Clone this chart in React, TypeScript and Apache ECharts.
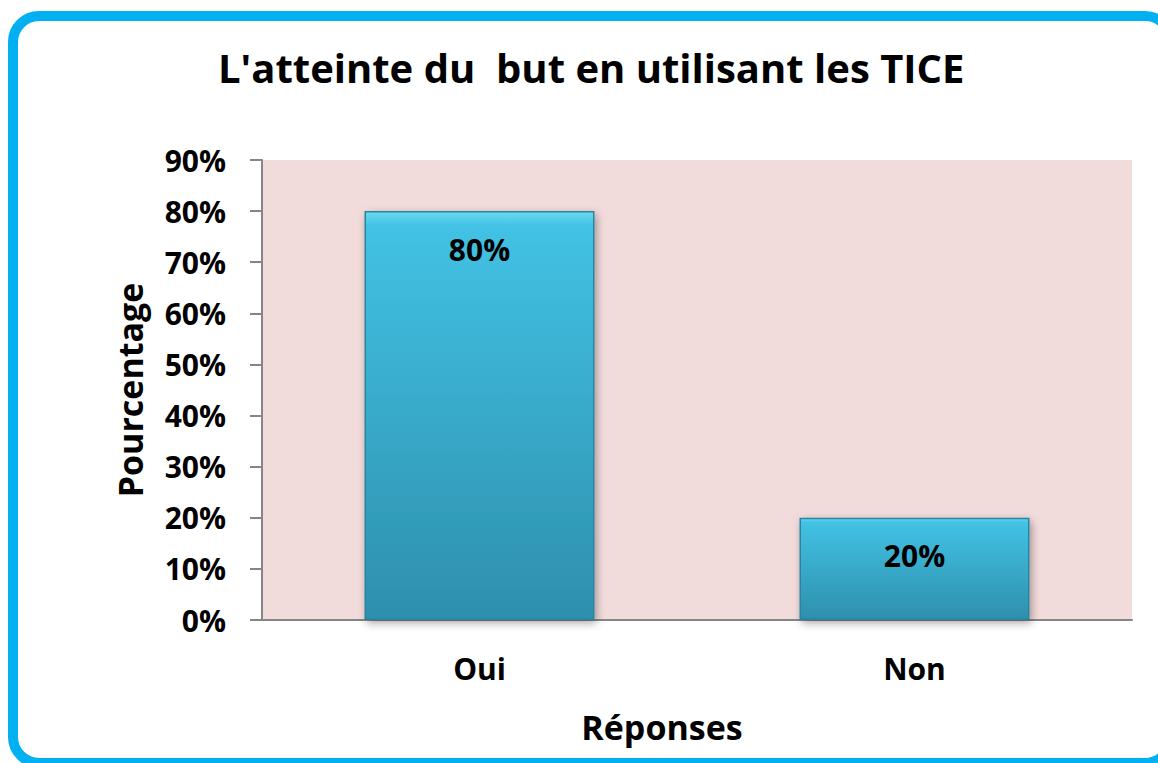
import React, { useEffect, useRef } from "react";
import * as echarts from "echarts";

const titleText = "L'atteinte du  but en utilisant les TICE";
const categories = ["Oui", "Non"];
const values = [80, 20];
const yTicks = [0, 10, 20, 30, 40, 50, 60, 70, 80, 90];
const yAxisTitle = "Pourcentage";
const xAxisTitle = "Réponses";

const FONT = "'Open Sans', Lato, sans-serif";

export default function App() {
  const ref = useRef<HTMLDivElement>(null);
  useEffect(() => {
    const chart = echarts.init(ref.current!, null, { renderer: "svg" });
    chart.setOption({
      animation: false,
      backgroundColor: "#ffffff",
      textStyle: { fontFamily: FONT },
      title: {
        text: titleText,
        left: 213,
        top: 42,
        padding: 5,
        textStyle: { fontSize: 40, fontWeight: "bold", color: "#000", fontFamily: FONT },
      },
      grid: {
        left: 262,
        top: 160,
        width: 870,
        height: 460,
        show: true,
        backgroundColor: "#F2DCDB",
        borderWidth: 0,
        outerBoundsMode: "none",
        containLabel: false,
      },
      xAxis: {
        type: "category",
        data: categories,
        name: xAxisTitle,
        nameLocation: "middle",
        nameGap: 90,
        nameTextStyle: { fontSize: 34, fontWeight: "bold", color: "#000", padding: [0, 70, 0, 0] },
        axisLine: { lineStyle: { color: "#868686", width: 2 } },
        axisTick: { show: false },
        axisLabel: { fontSize: 30, fontWeight: "bold", color: "#000", margin: 33 },
      },
      yAxis: {
        type: "value",
        min: yTicks[0],
        max: yTicks[yTicks.length - 1],
        interval: 10,
        name: yAxisTitle,
        nameLocation: "middle",
        nameGap: 115,
        nameTextStyle: { fontSize: 34, fontWeight: "bold", color: "#000" },
        axisLine: { show: true, lineStyle: { color: "#868686", width: 2 } },
        axisTick: { show: true, length: 12, lineStyle: { color: "#868686", width: 2 } },
        splitLine: { show: false },
        axisLabel: {
          fontSize: 30,
          fontWeight: "bold",
          color: "#000",
          margin: 36,
          formatter: (v: number) => v + "%",
        },
      },
      series: [
        {
          type: "bar",
          data: values,
          barWidth: 230,
          itemStyle: {
            color: new echarts.graphic.LinearGradient(0, 0, 0, 1, [
              { offset: 0, color: "#6ADAF2" },
              { offset: 0.035, color: "#42C2E4" },
              { offset: 1, color: "#2E8FAD" },
            ]),
            borderColor: "#2A84A0",
            borderWidth: 1.5,
            shadowBlur: 8,
            shadowColor: "rgba(0,0,0,0.35)",
            shadowOffsetX: 2,
            shadowOffsetY: 3,
          },
          label: {
            show: true,
            position: "insideTop",
            distance: 23,
            fontSize: 30,
            fontWeight: "bold",
            color: "#000",
            formatter: (p: any) => p.value + "%",
          },
        },
      ],
      graphic: [
        {
          type: "rect",
          shape: { x: 13, y: 16, width: 1158, height: 747, r: 26 },
          style: { fill: "none", stroke: "#00B0F0", lineWidth: 10 },
          z: 100,
        },
      ],
    });
    return () => chart.dispose();
  }, []);
  return (
    <div
      ref={ref}
      style={{ position: "fixed", left: 0, top: 0, width: 1158, height: 763 }}
    />
  );
}
